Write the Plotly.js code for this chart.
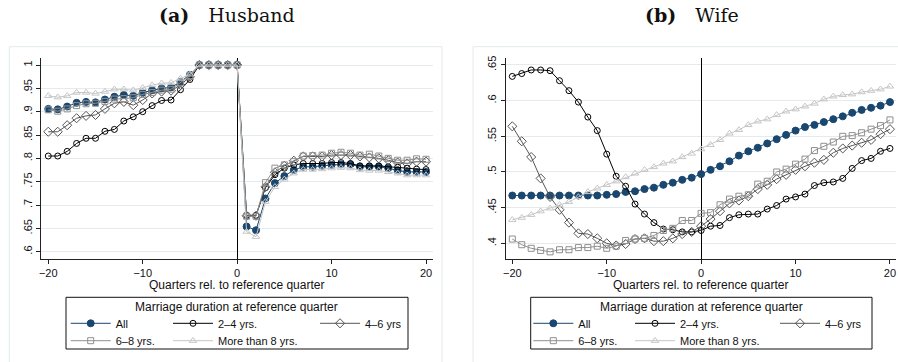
<!DOCTYPE html>
<html>
<head>
<meta charset="utf-8">
<script src="https://cdn.plot.ly/plotly-3.0.1.min.js"></script>
<style>
html,body{margin:0;padding:0;background:#fff;}
#chart{width:898px;height:362px;}
</style>
</head>
<body>
<div id="chart"></div>
<script>
// ---------------- DATA ----------------
const quarters = [-20,-19,-18,-17,-16,-15,-14,-13,-12,-11,-10,-9,-8,-7,-6,-5,-4,-3,-2,-1,0,
                  1,2,3,4,5,6,7,8,9,10,11,12,13,14,15,16,17,18,19,20];

const seriesNames = ['All', '2\u20134 yrs.', '4\u20136 yrs', '6\u20138 yrs.', 'More than 8 yrs.'];

// Husband panel (a)
const husbandAll = [.906,.905,.911,.919,.921,.920,.926,.932,.936,.934,.941,.946,.950,.952,.964,.979,1,1,1,1,1,
                    .654,.646,.714,.747,.762,.775,.782,.782,.784,.786,.787,.787,.782,.782,.782,.779,.774,.771,.771,.771];
const husband2to4 = [.805,.805,.815,.832,.843,.843,.858,.862,.880,.889,.900,.913,.924,.925,.947,.969,1,1,1,1,1,
                     .678,.678,.737,.765,.779,.786,.789,.789,.789,.791,.791,.789,.784,.784,.784,.782,.781,.779,.777,.776];
const husband4to6 = [.857,.857,.871,.886,.891,.893,.906,.918,.921,.914,.925,.939,.943,.945,.957,.975,1,1,1,1,1,
                     .677,.677,.739,.770,.784,.795,.804,.804,.804,.807,.807,.807,.804,.802,.800,.796,.791,.789,.793,.793];
const husband6to8 = [.904,.901,.906,.913,.917,.918,.922,.927,.928,.930,.937,.941,.946,.948,.962,.977,1,1,1,1,1,
                     .676,.676,.748,.779,.786,.793,.805,.806,.807,.811,.813,.811,.807,.809,.805,.800,.796,.796,.799,.798];
const husbandOver8 = [.934,.931,.934,.941,.941,.939,.943,.948,.948,.946,.951,.957,.961,.962,.971,.980,1,1,1,1,1,
                      .643,.632,.707,.739,.755,.768,.776,.776,.777,.779,.780,.779,.775,.774,.774,.771,.768,.764,.764,.764];

// Wife panel (b)
const wifeAll = [.467,.467,.467,.467,.467,.467,.467,.467,.467,.467,.468,.469,.472,.473,.476,.478,.482,.485,.489,.492,.497,
                 .503,.508,.515,.523,.529,.534,.540,.546,.552,.558,.563,.566,.570,.574,.578,.583,.587,.590,.593,.598];
const wife2to4 = [.634,.638,.643,.643,.642,.628,.614,.598,.577,.558,.525,.494,.480,.455,.441,.429,.420,.419,.416,.416,.418,
                  .424,.425,.436,.440,.441,.441,.448,.453,.462,.465,.469,.481,.485,.486,.491,.505,.516,.519,.529,.533];
const wife4to6 = [.564,.543,.521,.491,.465,.447,.429,.414,.413,.407,.400,.397,.399,.406,.407,.403,.403,.407,.413,.416,.424,
                  .434,.445,.456,.460,.466,.476,.482,.490,.496,.503,.508,.513,.517,.527,.533,.537,.541,.545,.553,.560];
const wife6to8 = [.406,.398,.393,.390,.388,.391,.391,.394,.394,.396,.393,.396,.404,.406,.407,.411,.418,.421,.432,.432,.442,
                  .443,.454,.462,.466,.468,.483,.487,.500,.504,.511,.518,.530,.536,.542,.550,.551,.555,.560,.565,.573];
const wifeOver8 = [.433,.436,.440,.445,.449,.454,.458,.465,.472,.477,.482,.487,.493,.498,.503,.507,.512,.515,.521,.526,.532,
                   .538,.545,.554,.559,.566,.571,.574,.580,.585,.588,.592,.596,.602,.606,.608,.609,.612,.614,.616,.620];

// Tick labels
const xTickVals = [-20,-10,0,10,20];
const xTickText = ['\u221220','\u221210','0','10','20'];
const husbandTickVals = [1,.95,.9,.85,.8,.75,.7,.65,.6];
const husbandTickText = ['1','.95','.9','.85','.8','.75','.7','.65','.6'];
const wifeTickVals = [.65,.6,.55,.5,.45,.4];
const wifeTickText = ['.65','.6','.55','.5','.45','.4'];

const panelTitles = ['<b>(a)</b>\u2003Husband', '<b>(b)</b>\u2003Wife'];
const xTitle = 'Quarters rel. to reference quarter';
const legendTitle = 'Marriage duration at reference quarter';

// ---------------- STYLE ----------------
const W = 898, H = 362;
const px = v => v / W;
const py = v => (H - v) / H;

const styles = [
  {color:'#1a476f', symbol:'circle', size:7, fill:'#1a476f'},
  {color:'#000000', symbol:'circle-open', size:6},
  {color:'#555555', symbol:'diamond-open', size:7},
  {color:'#8f8f8f', symbol:'square-open', size:6},
  {color:'#c6c6c6', symbol:'triangle-up-open', size:6.5}
];

const husbandData = [husbandAll, husband2to4, husband4to6, husband6to8, husbandOver8];
const wifeData = [wifeAll, wife2to4, wife4to6, wife6to8, wifeOver8];

// legend layout per panel: [line-start x, row center y]
const legendSlotsLeft  = [[70.7,323.3],[173,323.3],[320,323.3],[70.7,340.7],[173,340.7]];
const legendSlotsRight = [[533.3,323.3],[635,323.3],[780,323.3],[533.3,340.7],[635,340.7]];

const traces = [];
const layout = {
  width: W, height: H,
  margin: {l:0, r:0, t:0, b:0},
  paper_bgcolor: '#ffffff',
  plot_bgcolor: '#ffffff',
  font: {family:'"Liberation Sans", Arial, sans-serif', size:11, color:'#111'},
  showlegend: true,
  shapes: [],
  annotations: []
};

function legendName(k){ return k === 0 ? 'legend' : 'legend' + (k+1); }

[husbandData, wifeData].forEach((panel, p) => {
  const xa = p === 0 ? 'x' : 'x2';
  const ya = p === 0 ? 'y' : 'y2';
  const slots = p === 0 ? legendSlotsLeft : legendSlotsRight;
  panel.forEach((vals, i) => {
    const s = styles[i];
    const lg = legendName(p*5 + i);
    traces.push({
      type:'scatter', mode:'lines+markers',
      x: quarters, y: vals,
      xaxis: xa, yaxis: ya,
      name: seriesNames[i],
      legend: lg,
      line: {color: s.color, width: 1},
      marker: {symbol: s.symbol, size: s.size, color: s.fill || s.color,
               line: {color: s.color, width: 1}},
      hoverinfo: 'skip'
    });
    const [lx, ly] = slots[i];
    layout[lg] = {
      x: px(lx - 5), xanchor:'left',
      y: py(ly - 14.5), yanchor:'top',
      bgcolor:'rgba(0,0,0,0)', borderwidth:0,
      itemwidth: 40,
      font: {size:11, color:'#111'},
      orientation:'v'
    };
  });
});

const xAxisBase = {
  showgrid:false, zeroline:true, zerolinecolor:'#000', zerolinewidth:1,
  showline:true, linecolor:'#222', linewidth:1,
  ticks:'outside', ticklen:4, tickcolor:'#222', tickwidth:1,
  tickvals: xTickVals, ticktext: xTickText,
  tickfont:{size:11},
  fixedrange:true
};
const yAxisBase = {
  showgrid:true, gridcolor:'#e3ebee', gridwidth:1, zeroline:false,
  showline:true, linecolor:'#222', linewidth:1,
  ticks:'outside', ticklen:4, tickcolor:'#222', tickwidth:1,
  tickangle:-90, tickfont:{size:11},
  fixedrange:true
};

const yDomain = [py(259), py(58)];
layout.xaxis  = Object.assign({}, xAxisBase, {domain:[px(41), px(433)], range:[-20.77, 20.74], anchor:'y'});
layout.yaxis  = Object.assign({}, yAxisBase, {domain:yDomain, range:[0.5844, 1.015], anchor:'x',
                  tickvals:husbandTickVals, ticktext:husbandTickText});
layout.xaxis2 = Object.assign({}, xAxisBase, {domain:[px(505.7), px(896)], range:[-20.7, 20.64], anchor:'y2'});
layout.yaxis2 = Object.assign({}, yAxisBase, {domain:yDomain, range:[0.378, 0.6598], anchor:'x2',
                  tickvals:wifeTickVals, ticktext:wifeTickText});

// panel frames
layout.shapes.push({type:'rect', xref:'paper', yref:'paper', x0:px(9.3), x1:px(442), y0:-0.05, y1:py(46.7),
                    line:{color:'#e2eaed', width:1}, layer:'below'});
layout.shapes.push({type:'rect', xref:'paper', yref:'paper', x0:px(473), x1:1.05, y0:-0.05, y1:py(46.7),
                    line:{color:'#e2eaed', width:1}, layer:'below'});
// legend boxes
layout.shapes.push({type:'rect', xref:'paper', yref:'paper', x0:px(66), x1:px(408), y0:py(349), y1:py(297.3),
                    line:{color:'#111', width:1}});
layout.shapes.push({type:'rect', xref:'paper', yref:'paper', x0:px(530.7), x1:px(872), y0:py(349), y1:py(297.3),
                    line:{color:'#111', width:1}});

// x-axis titles
[237, 700.9].forEach(cx => {
  layout.annotations.push({xref:'paper', yref:'paper', x:px(cx), y:py(285), xanchor:'center', yanchor:'middle',
    text:xTitle, showarrow:false, font:{size:12, color:'#111'}});
});
// legend titles
[237, 701.3].forEach(cx => {
  layout.annotations.push({xref:'paper', yref:'paper', x:px(cx), y:py(306.7), xanchor:'center', yanchor:'middle',
    text:legendTitle, showarrow:false, font:{size:12, color:'#111'}});
});
// panel titles
[[227, panelTitles[0]],[692, panelTitles[1]]].forEach(([cx, t]) => {
  layout.annotations.push({xref:'paper', yref:'paper', x:px(cx), y:py(15), xanchor:'center', yanchor:'middle',
    text:t, showarrow:false, font:{family:'"DejaVu Serif", serif', size:19, color:'#111'}});
});

Plotly.newPlot('chart', traces, layout, {staticPlot:true, displayModeBar:false});
</script>
</body>
</html>
